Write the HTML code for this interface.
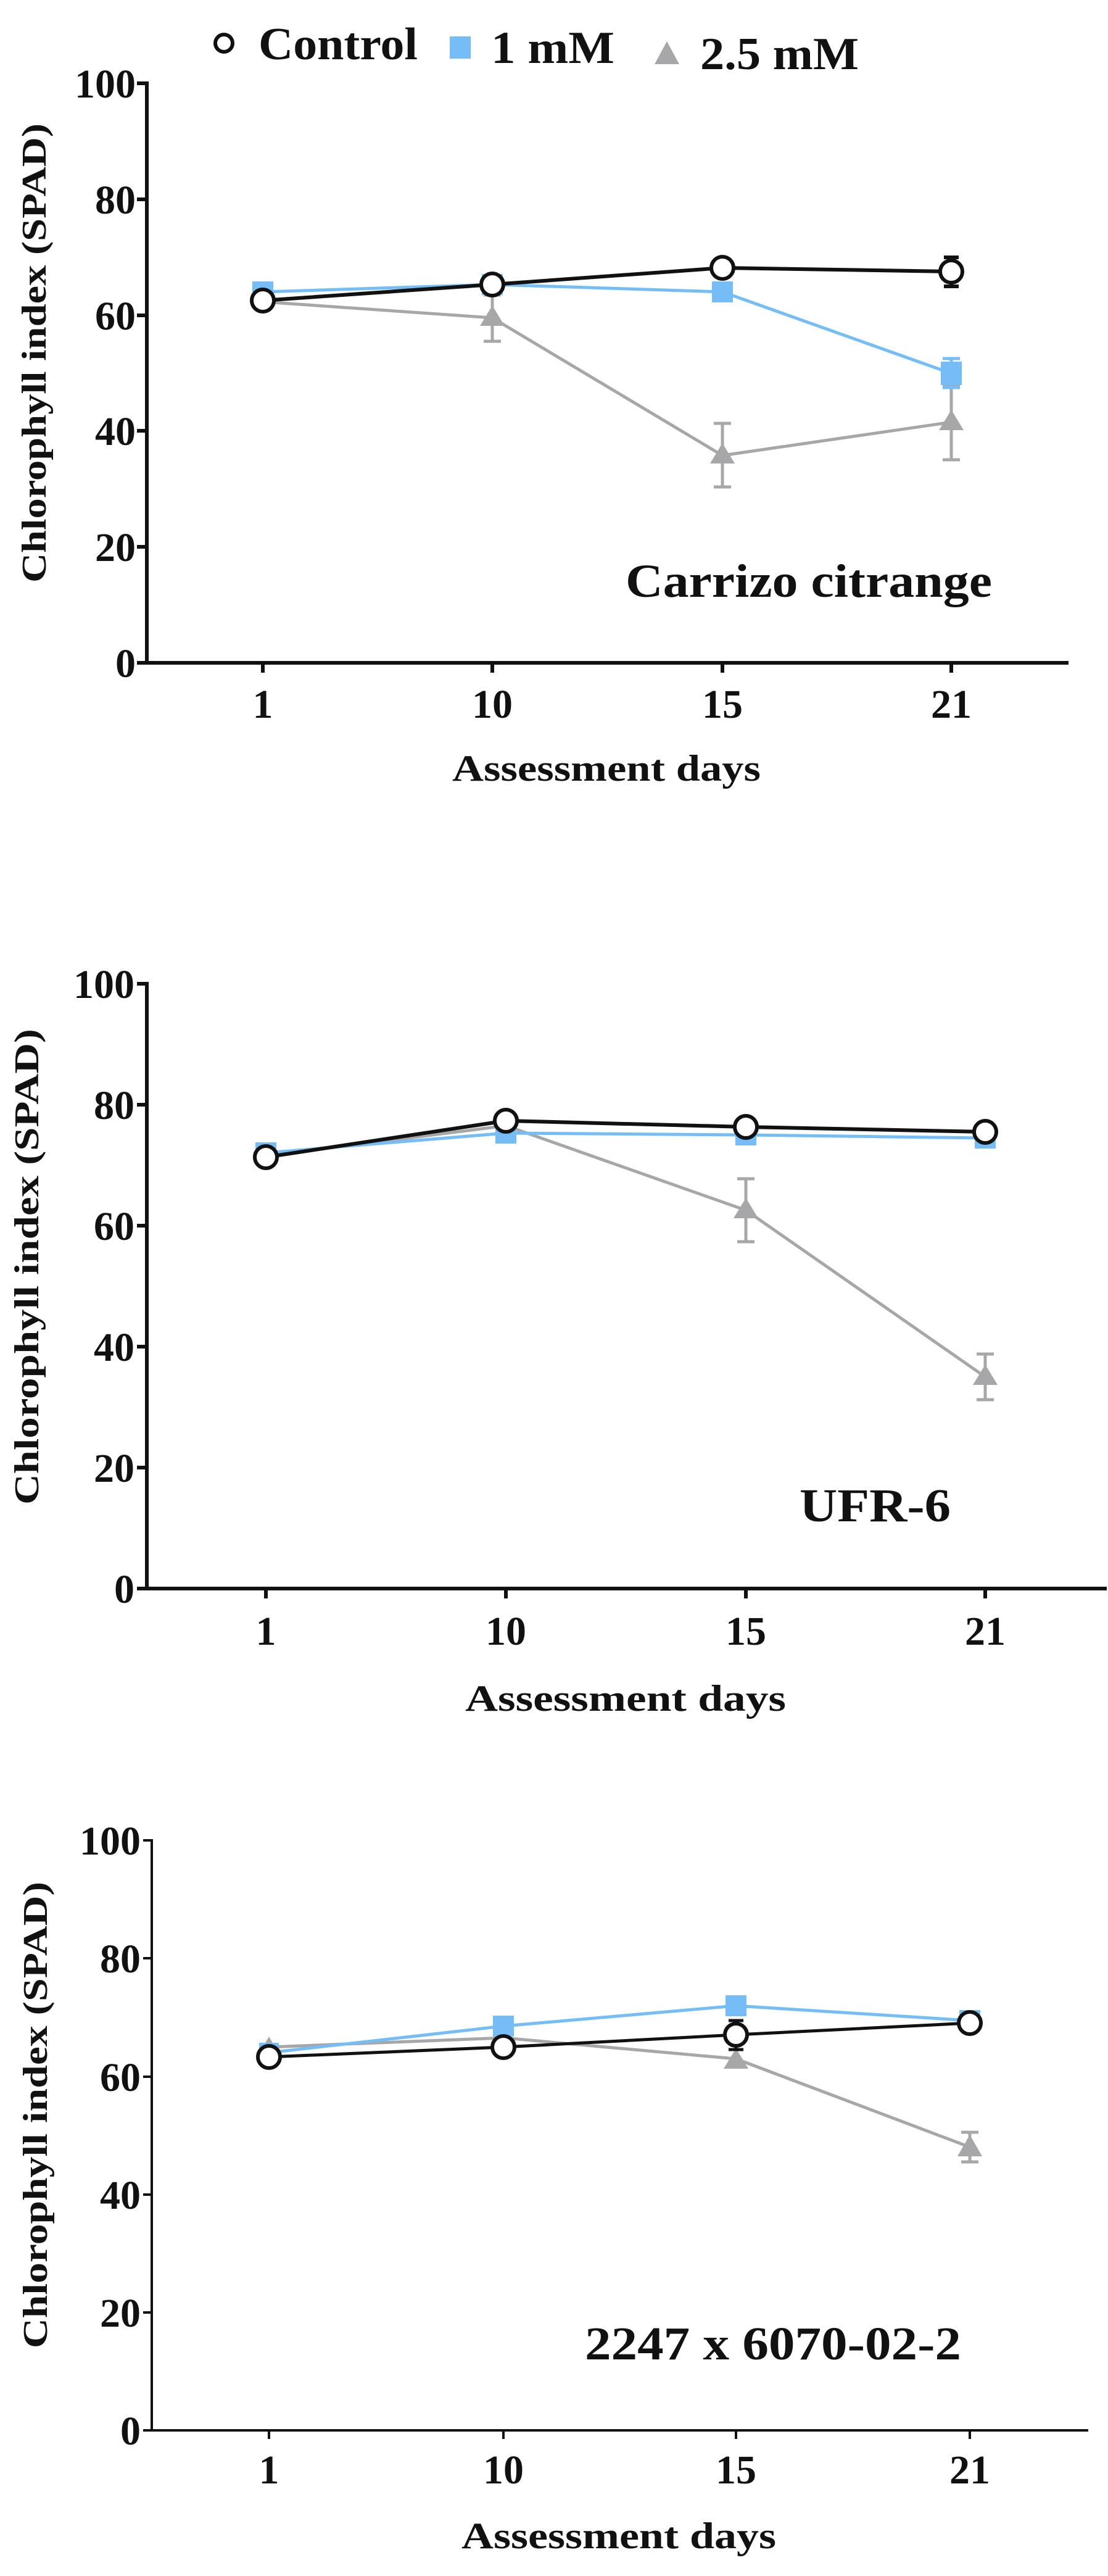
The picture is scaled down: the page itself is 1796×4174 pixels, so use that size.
<!DOCTYPE html>
<html><head><meta charset="utf-8"><style>
html,body{margin:0;padding:0;background:#fff;}
svg{display:block;}
text{font-family:"Liberation Serif",serif;font-weight:bold;fill:#111;}
</style></head><body>
<svg width="1796" height="4174" viewBox="0 0 1796 4174" xmlns="http://www.w3.org/2000/svg">
<rect width="1796" height="4174" fill="#fff"/>

<!-- Legend -->
<circle cx="363" cy="70" r="14" fill="#fff" stroke="#111" stroke-width="6"/>
<text x="419" y="96" font-size="74" textLength="258" lengthAdjust="spacingAndGlyphs">Control</text>
<rect x="729" y="59" width="34" height="36" fill="#74bdf7"/>
<text x="796" y="102" font-size="74" textLength="200" lengthAdjust="spacingAndGlyphs">1 mM</text>
<polygon points="1081,67 1101,104 1061,104" fill="#a7a7a9"/>
<text x="1135" y="112" font-size="74" textLength="257" lengthAdjust="spacingAndGlyphs">2.5 mM</text>

<!-- ================= PANEL 1 ================= -->
<g stroke="#111" stroke-width="6" fill="none">
<line x1="238" y1="132" x2="238" y2="1077"/>
<line x1="235" y1="1074" x2="1732" y2="1074"/>
<line x1="222" y1="135" x2="238" y2="135"/>
<line x1="222" y1="323" x2="238" y2="323"/>
<line x1="222" y1="511" x2="238" y2="511"/>
<line x1="222" y1="698" x2="238" y2="698"/>
<line x1="222" y1="886" x2="238" y2="886"/>
<line x1="222" y1="1074" x2="238" y2="1074"/>
<line x1="426" y1="1074" x2="426" y2="1090"/>
<line x1="798" y1="1074" x2="798" y2="1090"/>
<line x1="1171" y1="1074" x2="1171" y2="1090"/>
<line x1="1542" y1="1074" x2="1542" y2="1090"/>
</g>
<g font-size="66" text-anchor="end">
<text x="220" y="158">100</text>
<text x="220" y="346">80</text>
<text x="220" y="534">60</text>
<text x="220" y="721">40</text>
<text x="220" y="909">20</text>
<text x="220" y="1097">0</text>
</g>
<g font-size="66" text-anchor="middle">
<text x="426" y="1163">1</text>
<text x="798" y="1163">10</text>
<text x="1171" y="1163">15</text>
<text x="1542" y="1163">21</text>
</g>
<text x="733" y="1265" font-size="60" textLength="500" lengthAdjust="spacingAndGlyphs">Assessment days</text>
<text transform="translate(74,944) rotate(-90)" font-size="56" textLength="744" lengthAdjust="spacingAndGlyphs">Chlorophyll index (SPAD)</text>
<text x="1014" y="967" font-size="76" textLength="594" lengthAdjust="spacingAndGlyphs">Carrizo citrange</text>
<!-- 2.5 mM -->
<g stroke="#a7a7a9" stroke-width="5" fill="none">
<polyline points="426,489 798,515 1171,738 1542,684"/>
<line x1="798" y1="478" x2="798" y2="553"/><line x1="784" y1="553" x2="812" y2="553"/><line x1="784" y1="478" x2="812" y2="478"/>
<line x1="1171" y1="686" x2="1171" y2="789"/><line x1="1157" y1="686" x2="1185" y2="686"/><line x1="1157" y1="789" x2="1185" y2="789"/>
<line x1="1542" y1="623" x2="1542" y2="745"/><line x1="1528" y1="623" x2="1556" y2="623"/><line x1="1528" y1="745" x2="1556" y2="745"/>
</g>
<g fill="#a7a7a9">
<polygon points="798,495 818,528 778,528"/>
<polygon points="1171,718 1191,751 1151,751"/>
<polygon points="1542,664 1562,697 1522,697"/>
</g>
<!-- 1 mM -->
<g stroke="#74bdf7" stroke-width="5" fill="none">
<polyline points="426,473 798,461 1171,473 1542,605"/>
<line x1="1542" y1="581" x2="1542" y2="628"/><line x1="1528" y1="581" x2="1556" y2="581"/><line x1="1528" y1="628" x2="1556" y2="628"/>
</g>
<g fill="#74bdf7">
<rect x="409" y="456" width="34" height="34"/>
<rect x="781" y="444" width="34" height="34"/>
<rect x="1154" y="456" width="34" height="34"/>
<rect x="1525" y="586" width="34" height="38"/>
</g>
<!-- Control -->
<g stroke="#111" stroke-width="6" fill="none">
<polyline points="426,487 798,461 1171,434 1542,440"/>
<line x1="1542" y1="417" x2="1542" y2="464"/><line x1="1530" y1="417" x2="1554" y2="417"/><line x1="1530" y1="464" x2="1554" y2="464"/>
</g>
<g fill="#fff" stroke="#111" stroke-width="6">
<circle cx="426" cy="487" r="18"/>
<circle cx="798" cy="461" r="18"/>
<circle cx="1171" cy="434" r="18"/>
<circle cx="1542" cy="440" r="18"/>
</g>

<!-- ================= PANEL 2 ================= -->
<g stroke="#111" stroke-width="6" fill="none">
<line x1="238" y1="1591" x2="238" y2="2577"/>
<line x1="235" y1="2574" x2="1794" y2="2574"/>
<line x1="222" y1="1594" x2="238" y2="1594"/>
<line x1="222" y1="1790" x2="238" y2="1790"/>
<line x1="222" y1="1986" x2="238" y2="1986"/>
<line x1="222" y1="2182" x2="238" y2="2182"/>
<line x1="222" y1="2378" x2="238" y2="2378"/>
<line x1="222" y1="2574" x2="238" y2="2574"/>
<line x1="431" y1="2574" x2="431" y2="2590"/>
<line x1="820" y1="2574" x2="820" y2="2590"/>
<line x1="1209" y1="2574" x2="1209" y2="2590"/>
<line x1="1597" y1="2574" x2="1597" y2="2590"/>
</g>
<g font-size="66" text-anchor="end">
<text x="218" y="1617">100</text>
<text x="218" y="1813">80</text>
<text x="218" y="2009">60</text>
<text x="218" y="2205">40</text>
<text x="218" y="2401">20</text>
<text x="218" y="2597">0</text>
</g>
<g font-size="66" text-anchor="middle">
<text x="431" y="2665">1</text>
<text x="820" y="2665">10</text>
<text x="1209" y="2665">15</text>
<text x="1597" y="2665">21</text>
</g>
<text x="754" y="2772" font-size="60" textLength="520" lengthAdjust="spacingAndGlyphs">Assessment days</text>
<text transform="translate(62,2438) rotate(-90)" font-size="56" textLength="771" lengthAdjust="spacingAndGlyphs">Chlorophyll index (SPAD)</text>
<text x="1296" y="2465" font-size="76" textLength="245" lengthAdjust="spacingAndGlyphs">UFR-6</text>
<g stroke="#a7a7a9" stroke-width="5" fill="none">
<polyline points="431,1873 820,1824 1209,1961 1597,2231"/>
<line x1="1209" y1="1910" x2="1209" y2="2012"/><line x1="1195" y1="1910" x2="1223" y2="1910"/><line x1="1195" y1="2012" x2="1223" y2="2012"/>
<line x1="1597" y1="2194" x2="1597" y2="2268"/><line x1="1583" y1="2194" x2="1611" y2="2194"/><line x1="1583" y1="2268" x2="1611" y2="2268"/>
</g>
<g fill="#a7a7a9">
<polygon points="1209,1941 1229,1974 1189,1974"/>
<polygon points="1597,2211 1617,2244 1577,2244"/>
</g>
<g stroke="#74bdf7" stroke-width="5" fill="none">
<polyline points="431,1868 820,1836 1209,1839 1597,1844"/>
</g>
<g fill="#74bdf7">
<rect x="414" y="1851" width="34" height="34"/>
<rect x="803" y="1819" width="34" height="34"/>
<rect x="1192" y="1822" width="34" height="34"/>
<rect x="1580" y="1827" width="34" height="34"/>
</g>
<g stroke="#111" stroke-width="6" fill="none">
<polyline points="431,1875 820,1816 1209,1826 1597,1834"/>
</g>
<g fill="#fff" stroke="#111" stroke-width="6">
<circle cx="431" cy="1875" r="18"/>
<circle cx="820" cy="1816" r="18"/>
<circle cx="1209" cy="1826" r="18"/>
<circle cx="1597" cy="1834" r="18"/>
</g>

<!-- ================= PANEL 3 ================= -->
<g stroke="#111" stroke-width="4" fill="none">
<line x1="246" y1="2980" x2="246" y2="3940"/>
<line x1="244" y1="3938" x2="1764" y2="3938"/>
<line x1="232" y1="2982" x2="246" y2="2982"/>
<line x1="232" y1="3173" x2="246" y2="3173"/>
<line x1="232" y1="3365" x2="246" y2="3365"/>
<line x1="232" y1="3556" x2="246" y2="3556"/>
<line x1="232" y1="3747" x2="246" y2="3747"/>
<line x1="232" y1="3938" x2="246" y2="3938"/>
<line x1="436" y1="3938" x2="436" y2="3952"/>
<line x1="816" y1="3938" x2="816" y2="3952"/>
<line x1="1193" y1="3938" x2="1193" y2="3952"/>
<line x1="1572" y1="3938" x2="1572" y2="3952"/>
</g>
<g font-size="66" text-anchor="end">
<text x="228" y="3005">100</text>
<text x="228" y="3196">80</text>
<text x="228" y="3388">60</text>
<text x="228" y="3579">40</text>
<text x="228" y="3770">20</text>
<text x="228" y="3961">0</text>
</g>
<g font-size="66" text-anchor="middle">
<text x="436" y="4024">1</text>
<text x="816" y="4024">10</text>
<text x="1193" y="4024">15</text>
<text x="1572" y="4024">21</text>
</g>
<text x="748" y="4129" font-size="60" textLength="510" lengthAdjust="spacingAndGlyphs">Assessment days</text>
<text transform="translate(76,3805) rotate(-90)" font-size="56" textLength="756" lengthAdjust="spacingAndGlyphs">Chlorophyll index (SPAD)</text>
<text x="948" y="3823" font-size="76" textLength="610" lengthAdjust="spacingAndGlyphs">2247 x 6070-02-2</text>
<g stroke="#a7a7a9" stroke-width="5" fill="none">
<polyline points="436,3317 816,3302 1193,3336 1572,3479"/>
<line x1="1572" y1="3455" x2="1572" y2="3503"/><line x1="1558" y1="3455" x2="1586" y2="3455"/><line x1="1558" y1="3503" x2="1586" y2="3503"/>
</g>
<g fill="#a7a7a9">
<polygon points="436,3300 454,3330 418,3330"/>
<polygon points="1193,3319 1213,3352 1173,3352"/>
<polygon points="1572,3459 1592,3494 1552,3494"/>
</g>
<g stroke="#74bdf7" stroke-width="5" fill="none">
<polyline points="436,3326 816,3283 1193,3250 1572,3274"/>
</g>
<g fill="#74bdf7">
<rect x="420" y="3310" width="32" height="32"/>
<rect x="799" y="3266" width="34" height="34"/>
<rect x="1176" y="3233" width="34" height="34"/>
<rect x="1555" y="3257" width="34" height="34"/>
</g>
<g stroke="#111" stroke-width="5" fill="none">
<polyline points="436,3333 816,3317 1193,3297 1572,3278"/>
<line x1="1193" y1="3274" x2="1193" y2="3321"/><line x1="1181" y1="3274" x2="1205" y2="3274"/><line x1="1181" y1="3321" x2="1205" y2="3321"/>
</g>
<g fill="#fff" stroke="#111" stroke-width="6">
<circle cx="436" cy="3333" r="18"/>
<circle cx="816" cy="3317" r="18"/>
<circle cx="1193" cy="3297" r="18"/>
<circle cx="1572" cy="3278" r="18"/>
</g>
</svg>
</body></html>
